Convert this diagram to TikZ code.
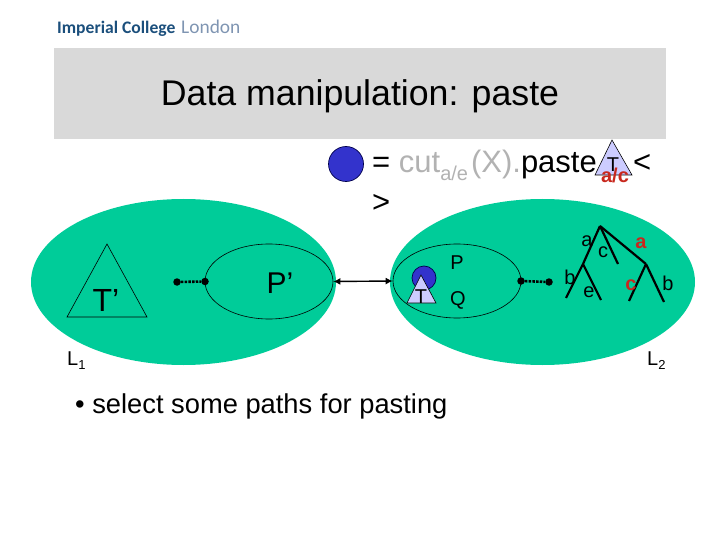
\documentclass[tikz,border=0pt]{standalone}
\usepackage{fontspec}
\setmainfont{Liberation Sans}
\newfontfamily\logofont{Carlito}
\usetikzlibrary{positioning,arrows.meta,shapes.geometric}
\definecolor{slidegray}{HTML}{D9D9D9}
\definecolor{langgreen}{HTML}{00CC99}
\definecolor{holeblue}{HTML}{3333CC}
\definecolor{treelilac}{HTML}{CCCCFF}
\definecolor{cutgray}{HTML}{B2B2B2}
\definecolor{logoblue}{HTML}{1B4F7C}
\definecolor{logolight}{HTML}{7F95B2}
\definecolor{labelred}{HTML}{C8281E}
\newcommand{\fs}[1]{\fontsize{#1}{#1}\selectfont}
\tikzset{
  lang/.style={fill=langgreen, draw=none},
  outline/.style={draw=black, line width=0.6pt},
  hole/.style={draw=black!70!blue, fill=holeblue, line width=0.7pt},
  treetri/.style={draw=black, fill=treelilac, line width=0.6pt},
  dot/.style={circle, fill=black, inner sep=0pt, minimum size=7.5pt},
  pathdash/.style={draw=black, line width=2.6pt, dash pattern=on 2.5pt off 1.2pt},
  link/.style={draw=black, line width=1.4pt, {Latex[length=7pt,width=7pt]}-{Latex[length=7pt,width=7pt]}},
  branch/.style={draw=black, line width=2.2pt},
  txt/.style={inner sep=0pt, anchor=base},
  big/.style={txt, font=\fs{30}},
  small/.style={txt, font=\fs{20}},
  red label/.style={txt, font=\fs{20}\bfseries, text=labelred}
}
\begin{document}
\begin{tikzpicture}[x=1pt, y=-1pt]
    \useasboundingbox (0,0) rectangle (720,540);

    \node[inner sep=0pt, anchor=base west, font=\logofont\fs{17.6}\bfseries, text=logoblue] (logo) at (57,34)
      {Imperial College};
    \node[inner sep=0pt, anchor=base west, font=\logofont\fs{19.4}, text=logolight] (logob) at (181,34) {London};

    \fill[slidegray] (54,48) rectangle (666,139);
    \node[txt, font=\fs{35.7}] (title) at (360,106) {Data manipulation: paste};

    % the expression
    \node[hole, circle, inner sep=0pt, minimum size=35pt] (blob) at (346,164) {};
    \coordinate (eqtop) at (612,140);
    \coordinate (eqleft) at (595,175);
    \coordinate (eqright) at (632,175);
    \draw[treetri] (eqtop) -- (eqleft) -- (eqright) -- cycle;
    \node[txt, anchor=base west, font=\fs{31}] (expr) at (372,173)
      {= \textcolor{cutgray}{cut\raisebox{-8pt}{\fs{20}a/e}\kern3pt(X).}paste};
    \node[small] (eqT) at (613,172) {T};
    \node[red label] (eqac) at (615,183) {a/c};
    \node[txt, anchor=base west, font=\fs{31}] (lt) at (633,173) {<};
    \node[txt, anchor=base west, font=\fs{31}] (gt) at (372,212) {>};

    % the two languages
    \node[lang, ellipse, minimum width=305pt, minimum height=166pt, inner sep=0pt] (L1) at (183.5,282) {};
    \node[lang, ellipse, minimum width=305pt, minimum height=166pt, inner sep=0pt] (L2) at (542.5,282) {};
    \node[txt, anchor=base west, font=\fs{20}] (L1lab) at (67,365) {L\raisebox{-4pt}{\fs{13}1}};
    \node[txt, anchor=base west, font=\fs{20}] (L2lab) at (647,365) {L\raisebox{-4pt}{\fs{13}2}};

    % left side
    \coordinate (Ttop) at (107,244);
    \coordinate (Tleft) at (67,317);
    \coordinate (Tright) at (147,317);
    \draw[outline] (Ttop) -- (Tleft) -- (Tright) -- cycle;
    \node[txt, font=\fs{32}] (Tp) at (106,311) {T’};
    \node[outline, ellipse, minimum width=128pt, minimum height=75pt, inner sep=0pt] (Pp) at (269,281.5) {};
    \node[big] (Pplab) at (280,293) {P’};
    \node[dot] (d1) at (177,282) {};
    \node[dot] (d2) at (205,281.5) {};
    \draw[pathdash] (d1) -- (d2);

    % right side
    \node[outline, ellipse, minimum width=128pt, minimum height=74pt, inner sep=0pt] (P) at (457,281) {};
    \draw[link] (Pp.east) -- (P.west);
    \node[hole, circle, inner sep=0pt, minimum size=24pt] (subblob) at (424,278) {};
    \coordinate (stop) at (421,275);
    \coordinate (sleft) at (407,303);
    \coordinate (sright) at (436,303);
    \draw[treetri] (stop) -- (sleft) -- (sright) -- cycle;
    \node[small] (sT) at (421,303) {T};
    \node[small] (Plab) at (457,269) {P};
    \node[small] (Qlab) at (458,305) {Q};
    \node[dot] (d3) at (521,281) {};
    \node[dot] (d4) at (549,282) {};
    \draw[pathdash] (d3) -- (d4);

    % the tree
    \coordinate (root) at (600,226);
    \coordinate[below left=38pt and 17pt of root] (nl);
    \coordinate[below right=38pt and 18pt of root] (nc);
    \coordinate[below right=38pt and 46pt of root] (nr);
    \coordinate[below left=34pt and 17pt of nl] (nlb);
    \coordinate[below right=36pt and 18pt of nl] (nle);
    \coordinate[below left=37pt and 17pt of nr] (nrc);
    \coordinate[below right=38pt and 18pt of nr] (nrb);
    \draw[branch] (root) -- (nl);
    \draw[branch] (root) -- (nc);
    \draw[branch] (root) -- (nr);
    \draw[branch] (nl) -- (nlb);
    \draw[branch] (nl) -- (nle);
    \draw[branch] (nr) -- (nrc);
    \draw[branch] (nr) -- (nrb);
    \node[small] (la) at (587,246) {a};
    \node[small] (lc) at (603,258) {c};
    \node[red label] (lra) at (641,248) {a};
    \node[small] (lb) at (570,284) {b};
    \node[small] (le) at (589,297) {e};
    \node[red label] (lrc) at (631,290) {c};
    \node[small] (lrb) at (668,290) {b};

    \node[txt, anchor=base west, font=\fs{27.3}] (bullet) at (75,413) {• select some paths for pasting};
\end{tikzpicture}
\end{document}
